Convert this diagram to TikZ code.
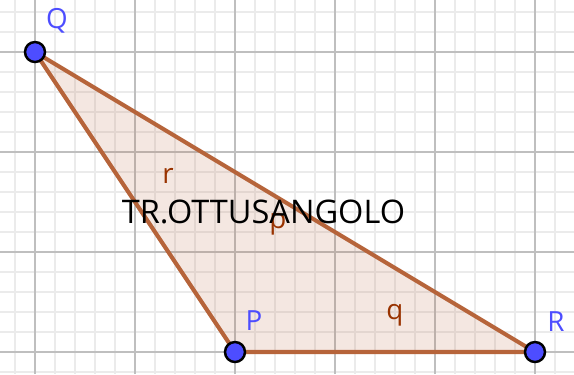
\documentclass[tikz,border=0pt]{standalone}
\usepackage{fontspec}
\setmainfont{Open Sans}
\definecolor{lato}{RGB}{182,100,58}
\definecolor{latotxt}{RGB}{153,51,0}
\definecolor{punto}{RGB}{77,77,255}
\tikzset{
  vertice/.style={circle,fill=punto,draw=black,line width=0.7pt,inner sep=0pt,minimum size=0.2cm},
  nomepunto/.style={text=punto,font=\fontsize{7.9}{8}\selectfont,inner sep=0pt},
  nomelato/.style={text=latotxt,font=\fontsize{7.9}{8}\selectfont,inner sep=0pt}
}
\begin{document}
\begin{tikzpicture}
\useasboundingbox (-0.35,-0.22) rectangle (5.39,3.52);
\fill[white] (-0.35,-0.22) rectangle (5.39,3.52);
\draw[black!8,line width=0.4pt,step=0.2] (-0.35,-0.22) grid (5.39,3.52);
\draw[black!25,line width=0.5pt,step=1] (-0.35,-0.22) grid (5.39,3.52);
\coordinate (Q) at (0,3);
\coordinate (P) at (2,0);
\coordinate (R) at (5,0);
\fill[lato,fill opacity=0.15] (P)--(R)--(Q)--cycle;
\draw[lato,line width=1.15pt,line join=round] (P)--(R)--(Q)--cycle;
\node[nomelato] (r) at (1.33,1.76) {r};
\node[nomelato] (p) at (2.43,1.28) {p};
\node[nomelato] (q) at (3.60,0.37) {q};
\node[font=\fontsize{9.25}{10}\selectfont,inner sep=0pt,anchor=base] (tipo) at (2.285,1.29) {TR.OTTUSANGOLO};
\node[nomepunto] (nQ) at (0.22,3.31) {Q};
\node[nomepunto] (nP) at (2.19,0.31) {P};
\node[nomepunto] (nR) at (5.21,0.30) {R};
\node[vertice] (vQ) at (Q) {};
\node[vertice] (vP) at (P) {};
\node[vertice] (vR) at (R) {};
\end{tikzpicture}
\end{document}
